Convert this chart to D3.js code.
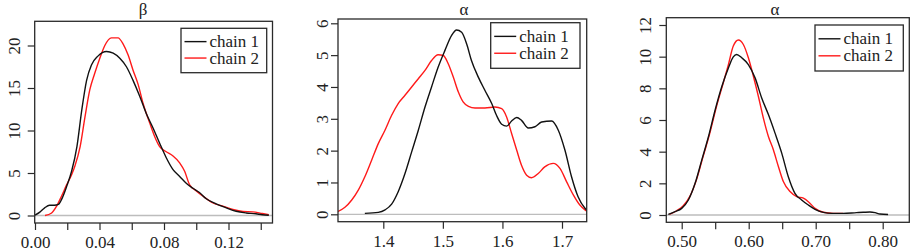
<!DOCTYPE html>
<html>
<head>
<meta charset="utf-8">
<script src="https://cdn.jsdelivr.net/npm/d3@7"></script>
<style>
  html, body { margin: 0; padding: 0; background: #fff; }
  svg { display: block; }
</style>
</head>
<body>
<svg id="chart" width="914" height="252"></svg>
<script>
// ---------- data ----------
const seriesNames = ["chain 1", "chain 2"];
const titles = ["β", "α", "α"];

// Panel 1 (β)
const betaX1 = [0.000,0.003,0.006,0.009,0.012,0.0145,0.0165,0.0196,0.0227,0.026,0.029,0.032,0.035,0.039,0.0443,0.0485,0.0526,0.0567,0.0608,0.065,0.069,0.0732,0.0773,0.0814,0.0856,0.0897,0.0938,0.098,0.102,0.106,0.112,0.1186,0.1247,0.131,0.137,0.141,0.145];
const betaY1 = [0.05,0.4,0.9,1.2,1.2,1.3,1.9,3.4,5.2,8.1,12.4,15.9,17.7,18.75,19.3,19.1,18.5,17.5,15.9,14.0,12.0,10.3,8.5,6.8,5.4,4.6,3.8,3.2,2.7,2.0,1.4,0.9,0.5,0.3,0.2,0.08,0.03];
const betaX2 = [0.0062,0.0103,0.0134,0.0165,0.0196,0.0227,0.0247,0.028,0.031,0.034,0.037,0.0402,0.0433,0.0474,0.0515,0.0546,0.0577,0.0608,0.064,0.067,0.0711,0.0742,0.0773,0.0814,0.0856,0.0897,0.0928,0.0959,0.100,0.104,0.110,0.1165,0.1227,0.129,0.135,0.141,0.145];
const betaY2 = [0.0,0.3,1.1,2.3,3.6,4.8,5.8,8.1,11.6,14.8,16.7,18.5,20.0,20.9,20.9,20.2,18.9,17.1,15.4,13.2,10.9,9.3,8.1,7.5,7.0,6.2,5.2,3.6,2.9,2.3,1.5,1.1,0.7,0.47,0.43,0.23,0.1];

// Panel 2 (α)
const alphaAX1 = [1.369,1.3916,1.403,1.414,1.425,1.4364,1.4476,1.4588,1.470,1.481,1.492,1.5035,1.5147,1.523,1.5315,1.540,1.548,1.5595,1.5707,1.582,1.590,1.5987,1.607,1.6154,1.624,1.632,1.6434,1.6546,1.6658,1.6826,1.6938,1.705,1.716,1.727,1.7386,1.745];
const alphaAY1 = [0.03,0.06,0.14,0.32,0.71,1.28,1.96,2.64,3.37,4.0,4.62,5.15,5.62,5.79,5.72,5.35,4.83,4.31,3.89,3.48,3.11,2.83,2.77,2.93,3.04,2.95,2.71,2.75,2.90,2.93,2.64,2.01,1.18,0.55,0.19,0.08];
const alphaAX2 = [1.320,1.3356,1.347,1.358,1.369,1.3804,1.3916,1.4028,1.414,1.425,1.4364,1.4476,1.4588,1.470,1.481,1.492,1.5007,1.509,1.5175,1.526,1.534,1.543,1.554,1.5707,1.5875,1.5987,1.607,1.6154,1.624,1.632,1.6406,1.649,1.660,1.671,1.6854,1.6966,1.7078,1.719,1.730,1.7386,1.745];
const alphaAY2 = [0.06,0.22,0.45,0.76,1.18,1.70,2.22,2.64,3.11,3.48,3.74,4.0,4.26,4.52,4.83,5.01,4.99,4.73,4.31,3.84,3.53,3.39,3.34,3.34,3.37,3.32,3.06,2.54,2.01,1.54,1.23,1.15,1.28,1.49,1.60,1.44,1.02,0.61,0.29,0.14,0.07];

// Panel 3 (α)
const alphaBX1 = [0.480,0.490,0.500,0.510,0.520,0.530,0.540,0.550,0.560,0.5697,0.577,0.582,0.5896,0.5995,0.6095,0.6194,0.6294,0.6393,0.6493,0.659,0.669,0.679,0.689,0.699,0.7114,0.724,0.741,0.761,0.771,0.781,0.7886,0.796,0.808];
const alphaBY1 = [0.04,0.21,0.42,0.95,2.0,3.48,4.96,6.65,8.13,9.29,9.99,10.14,9.93,9.5,8.66,7.39,6.34,5.17,3.91,2.43,1.37,0.95,0.63,0.36,0.17,0.1,0.1,0.15,0.17,0.19,0.15,0.06,0.03];
const alphaBX2 = [0.4816,0.4925,0.502,0.512,0.522,0.532,0.542,0.552,0.562,0.5697,0.577,0.5846,0.592,0.5995,0.607,0.6144,0.6219,0.6294,0.6368,0.6443,0.6517,0.6617,0.6716,0.6816,0.689,0.699,0.7114,0.7264,0.741];
const alphaBY2 = [0.04,0.27,0.57,1.16,2.22,3.70,5.17,6.86,8.34,9.50,10.67,11.05,10.77,9.93,8.76,7.5,6.12,4.96,4.12,3.06,2.11,1.48,1.16,1.06,0.84,0.42,0.17,0.1,0.1];

// tick values
const betaXTicks = [0.00,0.02,0.04,0.06,0.08,0.10,0.12,0.14];
const betaXLabels = ["0.00","","0.04","","0.08","","0.12",""];
const betaYTicks = [0,5,10,15,20];
const alphaAXTicks = [1.4,1.5,1.6,1.7];
const alphaAXLabels = ["1.4","1.5","1.6","1.7"];
const alphaAYTicks = [0,1,2,3,4,5,6];
const alphaBXTicks = [0.50,0.55,0.60,0.65,0.70,0.75,0.80];
const alphaBXLabels = ["0.50","","0.60","","0.70","","0.80"];
const alphaBYTicks = [0,2,4,6,8,10,12];

const colors = ["#111111", "#ff1a1a"];
const FONT = '"Liberation Serif", Tinos, "Times New Roman", serif';

// ---------- layout ----------
const panels = [
  { title: titles[0], titleX: 143, box: [34.7, 272.5, 21.3, 223], yLab: 14.7,
    xRef: [0.00, 35, 0.04, 99.5], yRef: [0, 215.5, 20, 45.5],
    xs: [betaX1, betaX2], ys: [betaY1, betaY2],
    xTicks: betaXTicks, xLabels: betaXLabels, yTicks: betaYTicks,
    legend: [181, 28.3, 85.7, 44.4] },
  { title: titles[1], titleX: 464, box: [338, 586.7, 19, 221.7], yLab: 10,
    xRef: [1.4, 383.3, 1.7, 562], yRef: [0, 214.3, 6, 23.3],
    xs: [alphaAX1, alphaAX2], ys: [alphaAY1, alphaAY2],
    xTicks: alphaAXTicks, xLabels: alphaAXLabels, yTicks: alphaAYTicks,
    legend: [490.7, 22.7, 89.3, 45.6] },
  { title: titles[2], titleX: 775, box: [666.3, 909.3, 17.7, 222.3], yLab: 15,
    xRef: [0.5, 681.7, 0.8, 882.7], yRef: [0, 215, 12, 25],
    xs: [alphaBX1, alphaBX2], ys: [alphaBY1, alphaBY2],
    xTicks: alphaBXTicks, xLabels: alphaBXLabels, yTicks: alphaBYTicks,
    legend: [815, 25, 88.3, 46] }
];

const svg = d3.select("#chart");
const FS = 17;

panels.forEach((p, pi) => {
  const [L, R, T, B] = p.box;
  const kx = (p.xRef[3] - p.xRef[1]) / (p.xRef[2] - p.xRef[0]);
  const x = d3.scaleLinear()
    .domain([p.xRef[0] + (L - p.xRef[1]) / kx, p.xRef[0] + (R - p.xRef[1]) / kx])
    .range([L, R]);
  const ky = (p.yRef[3] - p.yRef[1]) / (p.yRef[2] - p.yRef[0]);
  const y = d3.scaleLinear()
    .domain([p.yRef[0] + (B - p.yRef[1]) / ky, p.yRef[0] + (T - p.yRef[1]) / ky])
    .range([B, T]);

  const g = svg.append("g");
  const clipId = "clip" + pi;
  g.append("clipPath").attr("id", clipId)
    .append("rect").attr("x", L).attr("y", T).attr("width", R - L).attr("height", B - T);

  g.append("line")
    .attr("x1", L).attr("x2", R).attr("y1", y(0)).attr("y2", y(0))
    .attr("stroke", "#bdbdbd").attr("stroke-width", 1.3);

  const line = d3.line().x(d => x(d[0])).y(d => y(d[1])).curve(d3.curveMonotoneX);
  [1, 0].forEach(ci => {
    const pts = p.xs[ci].map((v, i) => [v, p.ys[ci][i]]);
    g.append("path")
      .attr("d", line(pts))
      .attr("fill", "none")
      .attr("stroke", colors[ci])
      .attr("stroke-width", 1.4)
      .attr("clip-path", `url(#${clipId})`);
  });

  g.append("rect").attr("x", L).attr("y", T).attr("width", R - L).attr("height", B - T)
    .attr("fill", "none").attr("stroke", "#2a2a2a").attr("stroke-width", 1.3);

  const xa = d3.axisBottom(x).tickValues(p.xTicks).tickSize(7)
    .tickFormat((d, i) => p.xLabels[i]);
  const gx = g.append("g").attr("transform", `translate(0,${B})`).call(xa);
  gx.select(".domain").remove();
  gx.selectAll(".tick line").attr("stroke", "#2a2a2a").attr("stroke-width", 1.2);
  gx.selectAll(".tick text").attr("y", 25).attr("dy", 0)
    .style("font-family", FONT).style("font-size", FS + "px").attr("fill", "#222");

  const ya = d3.axisLeft(y).tickValues(p.yTicks).tickSize(7).tickFormat(d3.format("d"));
  const gy = g.append("g").attr("transform", `translate(${L},0)`).call(ya);
  gy.select(".domain").remove();
  gy.selectAll(".tick line").attr("stroke", "#2a2a2a").attr("stroke-width", 1.2);
  gy.selectAll(".tick text")
    .attr("x", 0).attr("y", 0).attr("dy", 0)
    .attr("transform", `translate(${-p.yLab},0) rotate(-90)`)
    .attr("text-anchor", "middle")
    .style("font-family", FONT).style("font-size", FS + "px").attr("fill", "#222");

  g.append("text").attr("x", p.titleX).attr("y", 15)
    .attr("text-anchor", "middle")
    .style("font-family", FONT).style("font-size", FS + "px").attr("fill", "#222")
    .text(p.title);

  const [lx, ly, lw, lh] = p.legend;
  const lg = g.append("g");
  lg.append("rect").attr("x", lx).attr("y", ly).attr("width", lw).attr("height", lh)
    .attr("fill", "#fff").attr("stroke", "#2a2a2a").attr("stroke-width", 1.3);
  seriesNames.forEach((name, i) => {
    const cy = ly + lh * (0.3 + 0.37 * i);
    lg.append("line").attr("x1", lx + 3.5).attr("x2", lx + 25.5)
      .attr("y1", cy).attr("y2", cy)
      .attr("stroke", colors[i]).attr("stroke-width", 1.4);
    lg.append("text").attr("x", lx + 28.5).attr("y", cy + 5.5)
      .style("font-family", FONT).style("font-size", FS + "px").attr("fill", "#222")
      .text(name);
  });
});
</script>
</body>
</html>
